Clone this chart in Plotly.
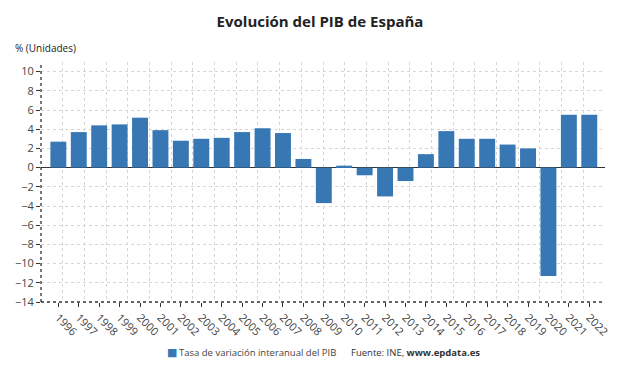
import plotly.graph_objects as go

years = [str(y) for y in range(1996, 2023)]
pib = [2.7, 3.7, 4.4, 4.5, 5.2, 3.9, 2.8, 3.0, 3.1, 3.7, 4.1, 3.6, 0.9, -3.7,
       0.2, -0.8, -3.0, -1.4, 1.4, 3.8, 3.0, 3.0, 2.4, 2.0, -11.3, 5.5, 5.5]
y_ticks = list(range(-14, 11, 2))
series_name = "Tasa de variación interanual del PIB"
BAR_COLOR = "#3778b4"

FONT = "Open Sans"
L, R, T, B = 41, 35, 62, 74
W, H = 640, 376
pw, ph = W - L - R, H - T - B

fig = go.Figure()
fig.add_trace(go.Bar(
    x=list(range(len(years))), y=pib, name=series_name,
    marker=dict(color=BAR_COLOR, line=dict(width=0)), width=0.78,
    showlegend=False,
))
# dummy trace to activate xaxis2 (vertical grid)
fig.add_trace(go.Scatter(x=[0], y=[None], xaxis="x2", yaxis="y",
                         showlegend=False, hoverinfo="skip"))

def py(pix):
    return (T + ph - pix) / ph

def px(pix):
    return (pix - L) / pw

GRID = "#d6d6d6"
fig.update_layout(
    width=W, height=H, margin=dict(l=L, r=R, t=T, b=B, autoexpand=False),
    paper_bgcolor="white", plot_bgcolor="white",
    font=dict(family=FONT, color="#444"),
    title=dict(text="<b>Evolución del PIB de España</b>", x=0.5, xanchor="center",
               y=1 - 22 / H, yref="container", yanchor="middle",
               font=dict(size=15, color="#222", family=FONT)),
    showlegend=False,
    xaxis=dict(
        range=[-0.85, 26.77], tickmode="array", tickvals=list(range(len(years))),
        ticktext=years, tickangle=45, showgrid=False, zeroline=False,
        ticks="outside", ticklen=4, tickcolor="#333", automargin=False,
        showline=False, tickfont=dict(size=11, color="#444", family=FONT),
    ),
    xaxis2=dict(
        range=[0, 26], overlaying="x", side="bottom", dtick=1, tick0=0,
        showgrid=True, griddash="dot", gridcolor=GRID, gridwidth=1,
        showticklabels=False, zeroline=False, showline=False, ticks="",
        automargin=False,
    ),
    yaxis=dict(
        range=[-14, 11], tickmode="array", tickvals=y_ticks,
        showgrid=True, griddash="dot", gridcolor=GRID, gridwidth=1,
        zeroline=True, zerolinecolor="#333", zerolinewidth=1.3,
        showline=False, ticks="outside", ticklen=4, tickcolor="#333",
        automargin=False,
        tickfont=dict(size=11, color="#444", family=FONT),
    ),
    annotations=[
        dict(text="% (Unidades)", xref="paper", yref="paper",
             x=px(13), y=py(48), xanchor="left", yanchor="middle",
             showarrow=False, font=dict(size=10, color="#222", family=FONT)),
        dict(text="■", xref="paper", yref="paper",
             x=px(165), y=py(352), xanchor="left", yanchor="middle",
             showarrow=False, font=dict(size=11, color=BAR_COLOR, family="DejaVu Sans")),
        dict(text=series_name, xref="paper", yref="paper",
             x=px(177), y=py(352), xanchor="left", yanchor="middle",
             showarrow=False, font=dict(size=9.5, color="#444", family=FONT)),
        dict(text="Fuente: INE, <b>www.epdata.es</b>", xref="paper", yref="paper",
             x=px(349), y=py(352), xanchor="left", yanchor="middle",
             showarrow=False, font=dict(size=9.5, color="#333", family=FONT)),
    ],
    shapes=[
        dict(type="line", xref="paper", yref="paper", x0=0, x1=0, y0=0, y1=1,
             line=dict(color="#333", width=1.3, dash="dot")),
        dict(type="line", xref="paper", yref="paper", x0=0, x1=1, y0=0, y1=0,
             line=dict(color="#333", width=1.3, dash="dot")),
    ],
)

fig.write_html("out.html", config={"displayModeBar": False},
               post_script="document.body.style.margin='0';")
